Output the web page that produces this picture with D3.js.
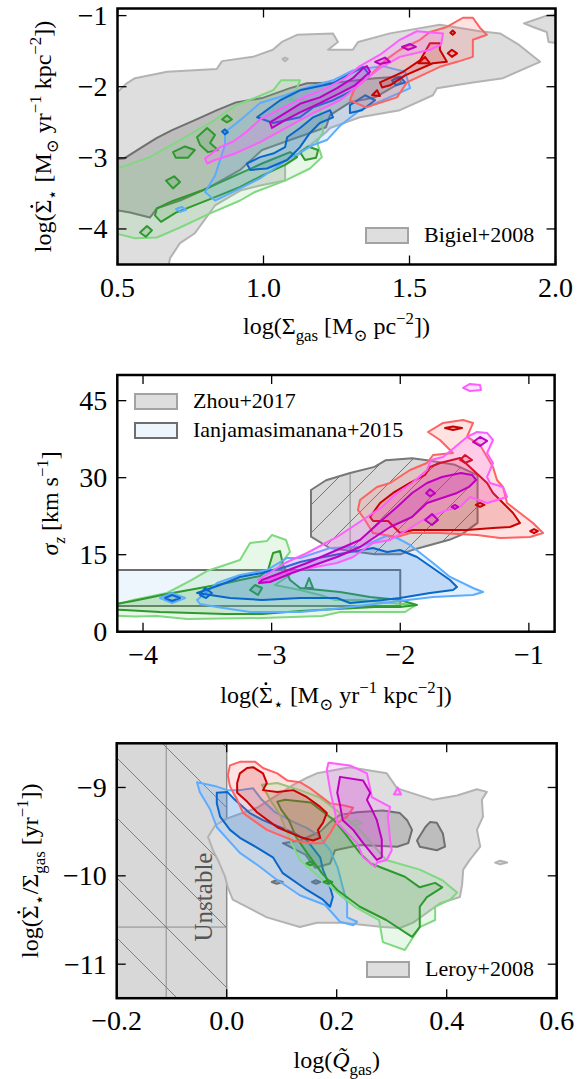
<!DOCTYPE html>
<html>
<head>
<meta charset="utf-8">
<script src="https://cdn.jsdelivr.net/npm/d3@7"></script>
<style>
body { margin: 0; background: #fff; }
svg text { font-family: "Liberation Serif", "DejaVu Serif", serif; fill: #000; }
</style>
</head>
<body>
<svg width="587" height="1079"></svg>
<script>

// ---------- panel 1 : log Sigma_gas vs log SFR surface density ----------
var bigielOuter = [[0.5,-2.08],[0.529,-1.96],[0.56,-1.88],[0.67,-1.79],[0.84,-1.75],[0.858,-1.64],[0.964,-1.58],[1.032,-1.48],[1.063,-1.37],[1.115,-1.27],[1.238,-1.25],[1.255,-1.37],[1.221,-1.48],[1.306,-1.48],[1.324,-1.37],[1.433,-1.25],[1.604,-1.13],[1.741,-1.22],[1.81,-1.25],[1.871,-1.40],[1.947,-1.65],[1.82,-1.88],[1.717,-1.94],[1.594,-2.02],[1.58,-2.12],[1.467,-2.33],[1.33,-2.43],[1.228,-2.58],[1.214,-2.64],[1.098,-3.03],[1.074,-3.1],[1.074,-3.32],[0.988,-3.39],[0.92,-3.46],[0.834,-3.67],[0.765,-4.06],[0.714,-4.2],[0.68,-4.41],[0.673,-4.55],[0.45,-4.55],[0.45,-2.08]];
var bigielPatch = [[1.892,-1.11],[1.97,-1.0],[2.05,-0.95],[2.05,-1.41],[1.976,-1.37],[1.97,-1.23],[1.923,-1.16]];
var bigielDot = [[1.065,-1.61],[1.074,-1.59],[1.083,-1.61],[1.074,-1.64]];
var bigielInner = [[0.45,-3.03],[0.522,-3.01],[0.584,-2.85],[0.635,-2.72],[0.687,-2.61],[0.765,-2.47],[0.841,-2.33],[0.906,-2.22],[0.995,-2.16],[1.091,-2.02],[1.149,-1.95],[1.252,-1.94],[1.382,-1.88],[1.464,-1.86],[1.471,-1.94],[1.382,-2.15],[1.296,-2.22],[1.228,-2.40],[1.214,-2.57],[1.091,-2.75],[0.995,-2.89],[0.92,-3.17],[0.817,-3.41],[0.714,-3.6],[0.635,-3.71],[0.611,-3.84],[0.543,-3.77],[0.45,-3.70]];

var ksGreenOuter = [[[0.45,-3.22],[0.611,-2.99],[0.714,-2.75],[0.817,-2.51],[0.906,-2.26],[0.974,-2.15],[1.033,-2.05],[1.06,-1.91],[1.125,-1.91],[1.115,-2.02],[1.091,-2.19],[1.142,-2.19],[1.193,-2.26],[1.204,-2.64],[1.183,-2.78],[1.2,-2.99],[1.159,-3.15],[1.074,-3.32],[0.971,-3.48],[0.92,-3.6],[0.817,-3.78],[0.714,-3.98],[0.635,-4.12],[0.56,-4.13],[0.45,-4.02]]];
var ksGreenInner = [
  [[0.635,-3.71],[0.687,-3.61],[0.789,-3.46],[0.892,-3.27],[0.995,-3.08],[1.091,-2.92],[1.115,-2.99],[1.074,-3.1],[0.995,-3.25],[0.92,-3.41],[0.817,-3.58],[0.7,-3.77],[0.649,-3.9],[0.628,-3.81]],
  [[0.772,-2.71],[0.807,-2.58],[0.834,-2.68],[0.817,-2.79],[0.844,-2.89],[0.81,-2.92],[0.783,-2.82]],
  [[0.69,-2.92],[0.731,-2.84],[0.765,-2.89],[0.741,-3.0],[0.7,-3.0]],
  [[0.666,-3.32],[0.694,-3.26],[0.714,-3.34],[0.69,-3.43]],
  [[1.125,-2.92],[1.152,-2.84],[1.187,-2.89],[1.18,-3.0],[1.142,-3.03]],
  [[0.577,-4.05],[0.601,-3.96],[0.618,-4.02],[0.597,-4.11]],
  [[0.858,-2.46],[0.875,-2.40],[0.892,-2.46],[0.875,-2.50]]
];
var ksBlueOuter = [
  [[0.8,-3.48],[0.834,-3.25],[0.868,-2.82],[0.868,-2.64],[0.92,-2.47],[0.988,-2.23],[1.074,-2.12],[1.149,-2.01],[1.238,-1.91],[1.306,-1.77],[1.409,-1.71],[1.485,-1.79],[1.502,-2.02],[1.409,-2.19],[1.33,-2.33],[1.262,-2.55],[1.217,-2.75],[1.17,-2.82],[1.08,-3.03],[0.988,-3.29],[0.896,-3.48],[0.834,-3.6]],
  [[0.70,-3.72],[0.72,-3.69],[0.735,-3.73],[0.715,-3.76]]
];
var ksBlueInner = [
  [[0.978,-2.43],[1.057,-2.19],[1.125,-2.05],[1.238,-1.95],[1.341,-1.72],[1.365,-1.84],[1.306,-2.05],[1.238,-2.19],[1.17,-2.29],[1.125,-2.43],[1.033,-2.51]],
  [[0.943,-3.08],[0.988,-2.99],[1.033,-2.94],[1.074,-2.85],[1.081,-2.71],[1.125,-2.58],[1.17,-2.43],[1.228,-2.33],[1.238,-2.43],[1.193,-2.51],[1.159,-2.65],[1.125,-2.85],[1.081,-3.03],[1.012,-3.15],[0.954,-3.17]],
  [[1.296,-2.26],[1.348,-2.12],[1.382,-2.19],[1.337,-2.33],[1.296,-2.37]],
  [[1.44,-1.91],[1.468,-1.86],[1.485,-1.94],[1.454,-1.98]],
  [[0.858,-2.63],[0.868,-2.6],[0.878,-2.64],[0.868,-2.67]]
];
var ksRedOuter = [[[1.296,-2.19],[1.351,-2.29],[1.457,-2.15],[1.491,-1.94],[1.604,-1.72],[1.663,-1.65],[1.717,-1.58],[1.717,-1.34],[1.765,-1.27],[1.741,-1.17],[1.717,-1.03],[1.683,-1.03],[1.628,-1.16],[1.57,-1.23],[1.536,-1.34],[1.467,-1.48],[1.416,-1.63],[1.365,-1.84],[1.313,-2.02]]];
var ksRedInner = [
  [[1.399,-1.94],[1.478,-1.79],[1.536,-1.63],[1.57,-1.39],[1.604,-1.39],[1.604,-1.48],[1.628,-1.65],[1.58,-1.67],[1.485,-1.84],[1.433,-1.98],[1.406,-2.01]],
  [[1.53,-1.67],[1.553,-1.58],[1.57,-1.67]],
  [[1.631,-1.53],[1.645,-1.48],[1.663,-1.53],[1.645,-1.58]],
  [[1.372,-2.12],[1.389,-2.05],[1.399,-2.13]],
  [[1.64,-1.24],[1.648,-1.21],[1.656,-1.24],[1.648,-1.27]]
];
var ksMagentaOuter = [[[0.8,-3.01],[0.851,-2.85],[0.896,-2.77],[0.94,-2.64],[0.988,-2.46],[1.08,-2.27],[1.149,-2.13],[1.217,-2.02],[1.279,-1.88],[1.33,-1.71],[1.399,-1.55],[1.467,-1.34],[1.525,-1.22],[1.615,-1.25],[1.608,-1.41],[1.57,-1.48],[1.467,-1.58],[1.399,-1.74],[1.354,-1.88],[1.306,-2.05],[1.262,-2.19],[1.17,-2.37],[1.08,-2.57],[0.988,-2.78],[0.896,-2.95],[0.834,-3.03],[0.807,-3.08]]];
var ksMagentaInner = [
  [[1.022,-2.50],[1.074,-2.37],[1.125,-2.24],[1.193,-2.15],[1.252,-2.02],[1.306,-1.88],[1.341,-1.74],[1.354,-1.71],[1.365,-1.79],[1.313,-1.98],[1.262,-2.09],[1.193,-2.23],[1.125,-2.36],[1.074,-2.47],[1.029,-2.58]],
  [[1.382,-1.65],[1.416,-1.59],[1.433,-1.65],[1.399,-1.68]],
  [[1.474,-1.44],[1.502,-1.40],[1.522,-1.44],[1.495,-1.48]]
];

// ---------- panel 2 : log SFR surface density vs sigma_z ----------
var ianjaBox = [[-4.3,5],[-2.0,5],[-2.0,12],[-4.3,12]];
var zhouRegion = [[-2.694,27.6],[-2.577,29.5],[-2.39,30.9],[-2.2,32.1],[-2.112,33.4],[-1.908,33.8],[-1.792,33.4],[-1.574,32.5],[-1.399,30.5],[-1.399,21.2],[-1.53,18.8],[-1.618,17.9],[-1.908,15.9],[-1.996,15.1],[-2.2,15.1],[-2.549,16.3],[-2.694,18.5]];
var zhouHatchX = -2.39;

var sgGreenOuter = [[[-4.3,4.62],[-4.078,6.18],[-3.814,7.54],[-3.635,9.88],[-3.503,11.82],[-3.246,13.97],[-3.168,17.28],[-3.036,17.67],[-2.997,18.84],[-2.888,17.86],[-2.857,15.53],[-2.935,13.0],[-2.857,11.04],[-2.974,9.1],[-2.779,8.12],[-2.624,7.15],[-2.507,6.18],[-2.313,6.18],[-2.079,5.59],[-1.877,5.2],[-1.963,3.84],[-2.196,3.84],[-2.468,3.84],[-2.608,3.06],[-3.075,2.66],[-3.658,2.47],[-3.891,3.05],[-4.062,2.95],[-4.3,3.25]]];
var sgGreenInner = [
  [[-4.3,5.01],[-4.078,5.98],[-3.814,7.34],[-3.557,8.51],[-3.348,9.49],[-3.246,10.07],[-3.09,10.85],[-3.028,12.02],[-2.989,15.33],[-2.935,15.72],[-2.911,12.99],[-2.857,10.07],[-2.779,8.51],[-2.624,8.12],[-2.468,7.73],[-2.235,6.76],[-2.002,6.18],[-1.87,5.2],[-2.002,4.81],[-2.196,4.81],[-2.492,4.42],[-2.779,4.03],[-3.075,3.45],[-3.363,3.45],[-3.868,3.84],[-4.148,4.23],[-4.3,4.42]],
  [[-3.168,8.12],[-3.129,9.1],[-3.075,8.51],[-3.106,7.15]],
  [[-2.74,8.51],[-2.709,10.46],[-2.678,8.51]]
];
var sgBlueOuter = [
  [[-3.58,6.18],[-3.425,9.49],[-3.246,11.04],[-3.036,12.02],[-2.88,14.36],[-2.779,14.36],[-2.546,16.3],[-2.313,16.5],[-2.196,17.67],[-2.111,18.64],[-2.025,18.25],[-1.924,16.89],[-1.745,13.38],[-1.613,10.66],[-1.434,8.51],[-1.356,7.73],[-1.434,7.15],[-1.745,6.76],[-2.134,5.59],[-2.523,4.42],[-2.779,3.84],[-3.168,3.84],[-3.425,4.81],[-3.557,5.4]],
  [[-3.868,6.56],[-3.774,7.54],[-3.673,6.56],[-3.774,5.59]]
];
var sgBlueInner = [
  [[-3.58,7.54],[-3.401,9.1],[-3.246,10.66],[-3.075,11.43],[-2.896,12.6],[-2.779,13.57],[-2.639,14.36],[-2.43,15.33],[-2.212,16.3],[-2.103,15.53],[-2.002,15.92],[-1.87,14.55],[-1.691,11.43],[-1.613,10.07],[-1.559,8.71],[-1.59,8.12],[-1.769,7.54],[-2.002,6.56],[-2.134,6.18],[-2.391,5.59],[-2.492,6.56],[-2.779,6.56],[-3.075,6.18],[-3.324,6.56]],
  [[-3.829,6.56],[-3.774,7.15],[-3.712,6.56],[-3.774,5.98]],
  [[-3.557,7.15],[-3.518,8.51],[-3.464,7.54],[-3.51,6.56]]
];
var sgRedOuter = [[[-2.313,25.65],[-2.181,28.19],[-2.079,28.97],[-1.924,31.5],[-1.792,32.86],[-1.745,34.42],[-1.59,34.81],[-1.691,37.34],[-1.784,38.9],[-1.667,40.66],[-1.512,41.24],[-1.434,40.66],[-1.481,37.93],[-1.38,36.37],[-1.279,32.08],[-1.248,29.55],[-1.201,28.19],[-1.17,25.07],[-1.069,23.12],[-0.968,21.18],[-0.89,19.23],[-0.991,18.45],[-1.224,18.25],[-1.403,18.84],[-1.691,19.23],[-1.924,19.23],[-2.025,18.45],[-2.212,19.23],[-2.274,21.76],[-2.329,23.71]]];
var sgRedInner = [
  [[-2.235,22.34],[-2.157,25.07],[-2.056,27.02],[-1.924,28.97],[-1.807,30.53],[-1.769,32.08],[-1.691,32.86],[-1.535,33.84],[-1.434,31.5],[-1.325,28.97],[-1.279,27.02],[-1.185,24.68],[-1.123,23.12],[-1.069,21.18],[-1.147,20.39],[-1.279,20.2],[-1.481,19.81],[-1.901,19.81],[-2.002,19.23],[-2.095,21.57],[-2.212,21.57]],
  [[-1.652,39.68],[-1.59,39.98],[-1.52,39.68],[-1.59,39.29]],
  [[-1.535,33.45],[-1.496,34.42],[-1.442,33.45],[-1.496,32.86]],
  [[-1.413,24.7],[-1.38,25.1],[-1.345,24.7],[-1.38,24.3]],
  [[-0.99,19.6],[-0.96,20.0],[-0.93,19.6],[-0.96,19.2]]
];
var sgMagentaOuter = [
  [[-3.106,10.07],[-2.896,13.38],[-2.725,15.33],[-2.492,18.45],[-2.375,20.39],[-2.258,22.34],[-2.142,24.29],[-2.025,27.02],[-1.908,28.97],[-1.792,31.5],[-1.761,33.45],[-1.667,34.03],[-1.481,37.93],[-1.403,38.9],[-1.325,38.71],[-1.279,37.34],[-1.325,34.81],[-1.279,32.86],[-1.325,30.14],[-1.302,28.97],[-1.201,28.19],[-1.17,26.24],[-1.325,25.07],[-1.458,26.24],[-1.535,24.29],[-1.636,23.71],[-1.823,21.76],[-1.947,19.81],[-2.079,17.86],[-2.212,17.28],[-2.367,14.55],[-2.492,13.38],[-2.702,12.41],[-2.896,11.43],[-3.075,9.49]],
  [[-1.512,47.48],[-1.458,48.26],[-1.38,48.06],[-1.372,47.09],[-1.458,46.89]]
];
var sgMagentaInner = [
  [[-3.075,10.07],[-2.725,13.38],[-2.546,15.33],[-2.313,17.86],[-2.227,19.81],[-2.142,21.76],[-2.025,24.29],[-1.908,27.02],[-1.792,28.97],[-1.676,30.14],[-1.528,30.92],[-1.442,30.53],[-1.411,29.55],[-1.466,28.19],[-1.559,27.02],[-1.792,25.07],[-1.908,22.34],[-2.079,20.39],[-2.196,18.45],[-2.313,16.5],[-2.492,14.55],[-2.842,11.43],[-3.013,9.68],[-3.099,9.49]],
  [[-1.434,36.95],[-1.38,37.93],[-1.325,37.15],[-1.38,36.17]],
  [[-1.799,26.96],[-1.769,27.74],[-1.73,26.96],[-1.769,26.37]],
  [[-1.807,21.76],[-1.753,22.93],[-1.706,21.76],[-1.753,20.78]],
  [[-1.6,24.3],[-1.575,24.7],[-1.55,24.3],[-1.575,23.9]]
];

// ---------- panel 3 : log Q_gas vs log SFE ----------
var unstableBand = [[-0.25,-8.4],[0.0,-8.4],[0.0,-11.5],[-0.25,-11.5]];
var unstableGridQ = -0.11;
var unstableGridS = -10.58;
var leroyOuter = [[-0.034,-9.56],[-0.021,-9.43],[0.001,-9.35],[0.055,-9.23],[0.121,-8.97],[0.146,-8.89],[0.164,-8.84],[0.224,-8.77],[0.291,-8.84],[0.31,-9.01],[0.375,-9.14],[0.419,-9.09],[0.455,-9.02],[0.473,-9.05],[0.464,-9.14],[0.466,-9.33],[0.455,-9.48],[0.461,-9.67],[0.442,-9.82],[0.43,-9.93],[0.428,-10.1],[0.424,-10.24],[0.388,-10.31],[0.339,-10.53],[0.315,-10.59],[0.284,-10.58],[0.211,-10.53],[0.164,-10.53],[0.133,-10.58],[0.073,-10.47],[0.011,-10.27],[0.002,-10.13],[-0.003,-10.01],[-0.016,-9.82],[-0.025,-9.71]];
var leroyDot = [[0.488,-9.85],[0.497,-9.83],[0.51,-9.85],[0.497,-9.87]];
var leroyInner = [
  [[0.102,-9.63],[0.133,-9.6],[0.17,-9.5],[0.188,-9.39],[0.206,-9.31],[0.237,-9.28],[0.284,-9.26],[0.315,-9.29],[0.328,-9.37],[0.337,-9.48],[0.33,-9.63],[0.31,-9.67],[0.242,-9.65],[0.197,-9.71],[0.188,-9.86],[0.161,-9.91],[0.143,-9.76]],
  [[0.346,-9.6],[0.361,-9.45],[0.37,-9.39],[0.382,-9.4],[0.393,-9.52],[0.397,-9.67],[0.382,-9.71],[0.351,-9.67]],
  [[0.082,-10.07],[0.091,-10.05],[0.102,-10.07],[0.091,-10.09]],
  [[0.155,-10.07],[0.162,-10.05],[0.17,-10.07],[0.162,-10.09]]
];
var qBlueOuter = [[[-0.054,-8.94],[-0.018,-8.99],[0.001,-9.03],[0.024,-9.03],[0.048,-9.01],[0.064,-9.14],[0.088,-9.28],[0.121,-9.39],[0.146,-9.46],[0.166,-9.54],[0.188,-9.71],[0.202,-9.91],[0.211,-10.13],[0.219,-10.31],[0.219,-10.47],[0.237,-10.52],[0.23,-10.56],[0.206,-10.52],[0.179,-10.33],[0.133,-10.22],[0.088,-10.03],[0.061,-9.9],[0.024,-9.74],[-0.018,-9.45],[-0.03,-9.25],[-0.049,-9.05]]];
var qBlueInner = [[[-0.018,-9.06],[0.001,-9.05],[0.015,-9.14],[0.042,-9.29],[0.066,-9.37],[0.097,-9.45],[0.124,-9.52],[0.146,-9.6],[0.17,-9.79],[0.175,-9.93],[0.188,-10.13],[0.193,-10.24],[0.188,-10.35],[0.175,-10.27],[0.146,-10.16],[0.102,-9.97],[0.084,-9.79],[0.055,-9.68],[0.024,-9.57],[0.006,-9.48],[-0.012,-9.33],[-0.018,-9.18]]];
var qGreenOuter = [
  [[0.064,-8.97],[0.092,-8.95],[0.133,-9.03],[0.168,-9.11],[0.215,-9.33],[0.242,-9.48],[0.29,-9.82],[0.351,-9.93],[0.392,-10.05],[0.419,-10.19],[0.406,-10.27],[0.379,-10.35],[0.379,-10.5],[0.351,-10.58],[0.324,-10.84],[0.284,-10.75],[0.277,-10.5],[0.233,-10.35],[0.201,-10.19],[0.168,-10.01],[0.133,-9.82],[0.115,-9.59],[0.097,-9.31],[0.079,-9.14]],
  [[0.225,-9.4],[0.235,-9.37],[0.245,-9.4],[0.235,-9.43]]
];
var qGreenInner = [
  [[0.092,-9.16],[0.106,-9.14],[0.153,-9.17],[0.195,-9.37],[0.215,-9.52],[0.242,-9.74],[0.262,-9.86],[0.324,-10.01],[0.351,-10.13],[0.379,-10.08],[0.392,-10.13],[0.364,-10.24],[0.351,-10.35],[0.351,-10.58],[0.337,-10.69],[0.29,-10.5],[0.242,-10.35],[0.201,-10.16],[0.173,-9.97],[0.146,-9.74],[0.126,-9.56],[0.113,-9.37],[0.099,-9.25]],
  [[0.176,-10.07],[0.184,-10.05],[0.192,-10.07],[0.184,-10.09]],
  [[0.145,-9.86],[0.152,-9.84],[0.159,-9.86],[0.152,-9.88]]
];
var qRedOuter = [[[0.006,-8.75],[0.024,-8.71],[0.052,-8.71],[0.066,-8.78],[0.092,-8.84],[0.11,-8.92],[0.133,-8.94],[0.152,-9.01],[0.188,-9.18],[0.211,-9.2],[0.23,-9.23],[0.219,-9.33],[0.197,-9.42],[0.188,-9.52],[0.175,-9.63],[0.152,-9.63],[0.121,-9.6],[0.073,-9.48],[0.03,-9.29],[0.019,-9.14],[0.006,-8.99],[0.002,-8.86]]];
var qRedInner = [[[0.019,-8.95],[0.024,-8.84],[0.037,-8.78],[0.048,-8.77],[0.066,-8.84],[0.073,-8.95],[0.066,-9.03],[0.092,-9.05],[0.121,-9.03],[0.146,-9.11],[0.17,-9.22],[0.182,-9.29],[0.175,-9.4],[0.166,-9.48],[0.17,-9.57],[0.157,-9.6],[0.133,-9.56],[0.092,-9.45],[0.055,-9.28],[0.037,-9.16],[0.019,-9.06]]];
var qMagentaOuter = [
  [[0.185,-8.72],[0.224,-8.75],[0.255,-8.84],[0.264,-9.11],[0.297,-9.22],[0.293,-9.33],[0.297,-9.59],[0.3,-9.71],[0.291,-9.82],[0.273,-9.85],[0.27,-9.9],[0.248,-9.79],[0.237,-9.63],[0.201,-9.4],[0.188,-9.03],[0.182,-8.8]],
  [[0.304,-9.08],[0.311,-9.0],[0.317,-9.08]]
];
var qMagentaInner = [[[0.206,-8.88],[0.248,-8.92],[0.261,-9.06],[0.255,-9.14],[0.264,-9.25],[0.273,-9.37],[0.282,-9.59],[0.282,-9.79],[0.273,-9.82],[0.248,-9.63],[0.23,-9.48],[0.211,-9.37],[0.206,-9.2],[0.201,-9.06]]];

// ---------- styles ----------
var seriesColors = {
  green:   { outer: "#80d880", inner: "#2e992e" },
  blue:    { outer: "#5cadff", inner: "#0b66c9" },
  red:     { outer: "#ff6262", inner: "#cc0000" },
  magenta: { outer: "#ff5eff", inner: "#c000c0" }
};
function contourStyle(series, level) {
  var c = seriesColors[series][level];
  return { fill: c, fillOpacity: level == "outer" ? 0.18 : 0.16, stroke: c, width: 2 };
}
var obsOuterStyle = { fill: "#dedede", fillOpacity: 1, stroke: "#b3b3b3", width: 2 };
var obsInnerStyle = { fill: "#8c8c8c", fillOpacity: 0.4, stroke: "#707070", width: 2 };

var svg = d3.select("svg");
var defs = svg.append("defs");

// hatch for the unstable band (wide "\" lines)
var hatchA = defs.append("pattern").attr("id", "hatchUnstable")
  .attr("patternUnits", "userSpaceOnUse").attr("x", 117).attr("y", 758)
  .attr("width", 60).attr("height", 60);
hatchA.append("rect").attr("width", 60).attr("height", 60).attr("fill", "#d8d8d8");
hatchA.append("path").attr("d", "M0,0L60,60M-5,55L5,65M55,-5L65,5")
  .attr("stroke", "#6a6a6a").attr("stroke-width", 0.8);

// hatch for the Zhou region ("/" lines)
var hatchB = defs.append("pattern").attr("id", "hatchZhou")
  .attr("patternUnits", "userSpaceOnUse").attr("x", 0).attr("y", 4)
  .attr("width", 28).attr("height", 28);
hatchB.append("rect").attr("width", 28).attr("height", 28).attr("fill", "#d9d9d9");
hatchB.append("path").attr("d", "M0,28L28,0M-5,5L5,-5M23,33L33,23")
  .attr("stroke", "#5a5a5a").attr("stroke-width", 0.8);

var sigmaDot = [{t: "log("}, {t: "Σ", dot: 1}];
var panels = [
  {
    name: "ks", left: 117.5, right: 555.5, top: 8.5, bottom: 264.5,
    xdom: [0.5, 2.0], ydom: [-4.5, -0.9],
    xticks: [0.5, 1.0, 1.5, 2.0], yticks: [-4, -3, -2, -1],
    xfmt: d3.format(".1f"), yfmt: d3.format("d"),
    layers: [
      { rings: [bigielOuter, bigielPatch, bigielDot], style: obsOuterStyle },
      { rings: [bigielInner], style: obsInnerStyle },
      { rings: ksGreenOuter, style: contourStyle("green", "outer") },
      { rings: ksGreenInner, style: contourStyle("green", "inner") },
      { rings: ksBlueOuter, style: contourStyle("blue", "outer") },
      { rings: ksBlueInner, style: contourStyle("blue", "inner") },
      { rings: ksRedOuter, style: contourStyle("red", "outer") },
      { rings: ksRedInner, style: contourStyle("red", "inner") },
      { rings: ksMagentaOuter, style: contourStyle("magenta", "outer") },
      { rings: ksMagentaInner, style: contourStyle("magenta", "inner") }
    ],
    xlabel: [{t: "log(Σ"}, {t: "gas", sub: 1}, {t: " [M"}, {t: "⊙", sub: 1}, {t: " pc"}, {t: "−2", sup: 1}, {t: "])"}],
    ylabel: sigmaDot.concat([{t: "⋆", sub: 1}, {t: " [M"}, {t: "⊙", sub: 1}, {t: " yr"}, {t: "−1", sup: 1}, {t: " kpc"}, {t: "−2", sup: 1}, {t: "])"}]),
    ylabelX: 51, xlabelY: 334
  },
  {
    name: "sg", left: 117.3, right: 554.6, top: 375, bottom: 631.7,
    xdom: [-4.2, -0.8], ydom: [0, 50],
    xticks: [-4, -3, -2, -1], yticks: [0, 15, 30, 45],
    xfmt: d3.format("d"), yfmt: d3.format("d"),
    layers: [
      { rings: [ianjaBox], style: { fill: "#eef6fd", fillOpacity: 1, stroke: "#6e6e6e", width: 2 } },
      { rings: [zhouRegion], style: { fill: "url(#hatchZhou)", fillOpacity: 1, stroke: "#777", width: 2 }, gridX: zhouHatchX },
      { rings: sgGreenOuter, style: contourStyle("green", "outer") },
      { rings: sgGreenInner, style: contourStyle("green", "inner") },
      { rings: sgBlueOuter, style: contourStyle("blue", "outer") },
      { rings: sgBlueInner, style: contourStyle("blue", "inner") },
      { rings: sgRedOuter, style: contourStyle("red", "outer") },
      { rings: sgRedInner, style: contourStyle("red", "inner") },
      { rings: sgMagentaOuter, style: contourStyle("magenta", "outer") },
      { rings: sgMagentaInner, style: contourStyle("magenta", "inner") }
    ],
    xlabel: sigmaDot.concat([{t: "⋆", sub: 1}, {t: " [M"}, {t: "⊙", sub: 1}, {t: " yr"}, {t: "−1", sup: 1}, {t: " kpc"}, {t: "−2", sup: 1}, {t: "])"}]),
    ylabel: [{t: "σ", it: 1}, {t: "z", sub: 1, it: 1}, {t: " [km s"}, {t: "−1", sup: 1}, {t: "]"}],
    ylabelX: 58, xlabelY: 703
  },
  {
    name: "q", left: 116.7, right: 556.7, top: 743.3, bottom: 998.2,
    xdom: [-0.2, 0.6], ydom: [-11.385, -8.5],
    xticks: [-0.2, 0.0, 0.2, 0.4, 0.6], yticks: [-11, -10, -9],
    xfmt: d3.format(".1f"), yfmt: d3.format("d"),
    layers: [
      { rings: [unstableBand], style: { fill: "url(#hatchUnstable)", fillOpacity: 1, stroke: "#8a8a8a", width: 1.5 }, gridX: unstableGridQ, gridY: unstableGridS },
      { rings: [leroyOuter, leroyDot], style: obsOuterStyle },
      { rings: leroyInner, style: obsInnerStyle },
      { rings: qBlueOuter, style: contourStyle("blue", "outer") },
      { rings: qBlueInner, style: contourStyle("blue", "inner") },
      { rings: qGreenOuter, style: contourStyle("green", "outer") },
      { rings: qGreenInner, style: contourStyle("green", "inner") },
      { rings: qRedOuter, style: contourStyle("red", "outer") },
      { rings: qRedInner, style: contourStyle("red", "inner") },
      { rings: qMagentaOuter, style: contourStyle("magenta", "outer") },
      { rings: qMagentaInner, style: contourStyle("magenta", "inner") }
    ],
    xlabel: [{t: "log("}, {t: "Q̃", it: 1}, {t: "gas", sub: 1}, {t: ")"}],
    ylabel: sigmaDot.concat([{t: "⋆", sub: 1}, {t: "/Σ"}, {t: "gas", sub: 1}, {t: " [yr"}, {t: "−1", sup: 1}, {t: "])"}]),
    ylabelX: 38, xlabelY: 1068
  }
];

function minus(s) { return s.replace(/-/g, "−"); }

// text with sub/superscripts; an over-dot is drawn as a small mark above Sigma
function richText(sel, segs, size, x0, y0, transform) {
  var wrap = sel.append("g");
  if (transform) wrap.attr("transform", transform);
  var t = wrap.append("text").attr("font-size", size).attr("x", x0).attr("y", y0)
    .attr("text-anchor", "middle");
  var shift = 0, dotted = [];
  segs.forEach(function (s) {
    var target = s.sub ? 0.3 * size : (s.sup ? -0.42 * size : 0);
    var ts = t.append("tspan").text(s.t).attr("dy", target - shift);
    if (s.sub || s.sup) ts.attr("font-size", size * 0.7);
    if (s.it) ts.attr("font-style", "italic");
    if (s.dot) dotted.push(ts.node());
    shift = target;
  });
  dotted.forEach(function (n) {
    var sp = n.getStartPositionOfChar(0);
    var ex = n.getExtentOfChar(0);
    wrap.append("circle").attr("cx", ex.x + ex.width / 2).attr("cy", sp.y - 0.8 * size)
      .attr("r", size * 0.06).attr("fill", "#000");
  });
  return t;
}

function drawPanel(p) {
  var x = d3.scaleLinear().domain(p.xdom).range([p.left, p.right]);
  var y = d3.scaleLinear().domain(p.ydom).range([p.bottom, p.top]);
  var g = svg.append("g").attr("class", "panel-" + p.name);

  defs.append("clipPath").attr("id", "clip-" + p.name)
    .append("rect").attr("x", p.left).attr("y", p.top)
    .attr("width", p.right - p.left).attr("height", p.bottom - p.top);

  var body = g.append("g").attr("clip-path", "url(#clip-" + p.name + ")");
  var ring = d3.line().x(function (d) { return x(d[0]); }).y(function (d) { return y(d[1]); })
    .curve(d3.curveLinearClosed);

  p.layers.forEach(function (l) {
    var st = l.style;
    var lg = body.append("g");
    lg.selectAll("path").data(l.rings).enter().append("path")
      .attr("d", ring)
      .attr("fill", st.fill).attr("fill-opacity", st.fillOpacity)
      .attr("stroke", "none");
    // extra hatch lines inside a region
    if (l.gridX !== undefined || l.gridY !== undefined) {
      var cid = "clip-region-" + p.name;
      defs.append("clipPath").attr("id", cid).append("path").attr("d", ring(l.rings[0]));
      var hg = lg.append("g").attr("clip-path", "url(#" + cid + ")");
      if (l.gridX !== undefined)
        hg.append("line").attr("x1", x(l.gridX)).attr("x2", x(l.gridX))
          .attr("y1", p.top).attr("y2", p.bottom).attr("stroke", "#7a7a7a").attr("stroke-width", 0.8);
      if (l.gridY !== undefined)
        hg.append("line").attr("y1", y(l.gridY)).attr("y2", y(l.gridY))
          .attr("x1", p.left).attr("x2", p.right).attr("stroke", "#7a7a7a").attr("stroke-width", 0.8);
    }
    lg.selectAll("path.edge").data(l.rings).enter().append("path")
      .attr("class", "edge")
      .attr("d", ring)
      .attr("fill", "none")
      .attr("stroke", st.stroke).attr("stroke-width", st.width)
      .attr("stroke-linejoin", "round");
  });

  // frame
  g.append("rect").attr("x", p.left).attr("y", p.top)
    .attr("width", p.right - p.left).attr("height", p.bottom - p.top)
    .attr("fill", "none").attr("stroke", "#000").attr("stroke-width", 2.5);

  // inward ticks on all four sides
  var tl = 9;
  var tk = g.append("g").attr("stroke", "#000").attr("stroke-width", 1.3);
  p.xticks.forEach(function (v) {
    tk.append("line").attr("x1", x(v)).attr("x2", x(v)).attr("y1", p.bottom).attr("y2", p.bottom - tl);
    tk.append("line").attr("x1", x(v)).attr("x2", x(v)).attr("y1", p.top).attr("y2", p.top + tl);
  });
  p.yticks.forEach(function (v) {
    tk.append("line").attr("y1", y(v)).attr("y2", y(v)).attr("x1", p.left).attr("x2", p.left + tl);
    tk.append("line").attr("y1", y(v)).attr("y2", y(v)).attr("x1", p.right).attr("x2", p.right - tl);
  });

  g.selectAll("text.xt").data(p.xticks).enter().append("text")
    .attr("class", "xt").attr("x", function (d) { return x(d); }).attr("y", p.bottom + 32)
    .attr("text-anchor", "middle").attr("font-size", 28)
    .text(function (d) { return minus(p.xfmt(d)); });
  g.selectAll("text.yt").data(p.yticks).enter().append("text")
    .attr("class", "yt").attr("x", p.left - 10).attr("y", function (d) { return y(d) + 9.5; })
    .attr("text-anchor", "end").attr("font-size", 28)
    .text(function (d) { return minus(p.yfmt(d)); });

  richText(g, p.xlabel, 24, (p.left + p.right) / 2, p.xlabelY, null);
  richText(g, p.ylabel, 24, 0, 0,
    "translate(" + p.ylabelX + "," + (p.top + p.bottom) / 2 + ") rotate(-90)");

  return { x: x, y: y, g: g };
}

var drawn = panels.map(drawPanel);

// legends
function legendBox(g, x0, y0, fill, stroke, label) {
  g.append("rect").attr("x", x0).attr("y", y0).attr("width", 42).attr("height", 15)
    .attr("fill", fill).attr("stroke", stroke).attr("stroke-width", 2);
  g.append("text").attr("x", x0 + 58).attr("y", y0 + 14).attr("font-size", 22).text(label);
}
legendBox(drawn[0].g, 366, 228, "#dedede", "#a3a3a3", "Bigiel+2008");
legendBox(drawn[1].g, 135, 394, "#dedede", "#a3a3a3", "Zhou+2017");
legendBox(drawn[1].g, 135, 423, "#eef6fd", "#6e6e6e", "Ianjamasimanana+2015");
legendBox(drawn[2].g, 367, 962, "#dedede", "#a3a3a3", "Leroy+2008");

// label for the unstable band
drawn[2].g.append("text").attr("font-size", 25).style("fill", "#555")
  .attr("text-anchor", "middle")
  .attr("transform", "translate(212,897) rotate(-90)").text("Unstable");

</script>
</body>
</html>
